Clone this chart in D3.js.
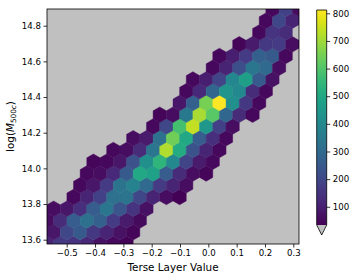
<!DOCTYPE html>
<html>
<head>
<meta charset="utf-8">
<script src="https://cdn.jsdelivr.net/npm/d3@7"></script>
<style>
  body { margin: 0; background: #fff; }
  text { font-family: "DejaVu Sans", sans-serif; fill: #000; }
</style>
</head>
<body>
<svg id="chart" width="357" height="280"></svg>
<script>
// axis limits (data extent) and ticks
const xDomain = [-0.5696, 0.3201];
const yDomain = [13.5759, 14.8937];
const xTicks = [-0.5, -0.4, -0.3, -0.2, -0.1, 0.0, 0.1, 0.2, 0.3];
const yTicks = [13.6, 13.8, 14.0, 14.2, 14.4, 14.6, 14.8];
const cbarTicks = [100, 200, 300, 400, 500, 600, 700, 800];
const countRange = [34, 812];

// hexbin grid: 19 x 10, rows alternate between the two lattices
const gridX = 19, gridY = 10;
// first column of each row (row 0 = bottom) and the counts along it
const rowFirstCol = [0, 0, 0, 0, 2, 2, 3, 3, 5, 6, 8, 8, 10, 10, 11, 12, 13, 14, 16, 16, 17];
const rowCounts = [
  [110, 160, 150, 120, 70, 50, 40],
  [80, 200, 250, 160, 110, 70, 45],
  [60, 130, 260, 320, 270, 170, 90, 55],
  [60, 80, 140, 260, 340, 240, 150, 70],
  [50, 110, 180, 320, 330, 200, 110, 60, 40],
  [50, 80, 170, 330, 380, 300, 170, 110, 60],
  [50, 60, 120, 250, 500, 480, 260, 130, 60, 45],
  [45, 50, 80, 230, 420, 540, 400, 190, 90, 50],
  [50, 60, 130, 340, 720, 510, 230, 110, 50],
  [60, 90, 320, 640, 500, 260, 140, 50],
  [50, 200, 580, 740, 450, 180, 60],
  [45, 60, 350, 710, 610, 290, 130, 50],
  [80, 270, 650, 812, 420, 160, 50],
  [50, 120, 290, 440, 400, 130, 50],
  [50, 100, 190, 390, 470, 250, 70],
  [50, 110, 220, 340, 300, 60],
  [50, 100, 170, 270, 250, 50],
  [45, 90, 160, 170, 60],
  [50, 150, 130],
  [50, 200, 110],
  [50, 180, 60]
];

const plot = {left: 47, right: 299, top: 9, bottom: 244};
const cbar = {left: 316.7, right: 326.7, top: 10, bottom: 225, tip: 235};
const bgColor = "#c0c0c0";

const svg = d3.select("#chart");

const x = d3.scaleLinear().domain(xDomain).range([plot.left, plot.right]);
const y = d3.scaleLinear().domain(yDomain).range([plot.bottom, plot.top]);
const color = d3.scaleSequential(d3.interpolateViridis).domain(countRange);

// build cells from the rows
const sx = (xDomain[1] - xDomain[0]) / gridX;
const sy = (yDomain[1] - yDomain[0]) / gridY;
const cells = [];
rowCounts.forEach((vals, r) => {
  vals.forEach((v, k) => {
    const col = rowFirstCol[r] + k;
    cells.push({
      x: xDomain[0] + (col + (r % 2 ? 0.5 : 0)) * sx,
      y: yDomain[0] + r * sy / 2,
      count: v
    });
  });
});

// hexagon shape (pointy top, like matplotlib)
const hw = (x(xDomain[0] + sx) - x(xDomain[0])) / 2;
const hh = y(yDomain[0]) - y(yDomain[0] + sy / 3);
const hexPath = `M${hw},${-hh / 2}L${hw},${hh / 2}L0,${hh}L${-hw},${hh / 2}L${-hw},${-hh / 2}L0,${-hh}Z`;

svg.append("clipPath").attr("id", "clip")
  .append("rect")
  .attr("x", plot.left).attr("y", plot.top)
  .attr("width", plot.right - plot.left).attr("height", plot.bottom - plot.top);

svg.append("rect")
  .attr("x", plot.left).attr("y", plot.top)
  .attr("width", plot.right - plot.left).attr("height", plot.bottom - plot.top)
  .attr("fill", bgColor);

svg.append("g").attr("clip-path", "url(#clip)")
  .selectAll("path")
  .data(cells)
  .join("path")
  .attr("d", hexPath)
  .attr("transform", d => `translate(${x(d.x)},${y(d.y)})`)
  .attr("fill", d => color(d.count))
  .attr("stroke", d => color(d.count))
  .attr("stroke-width", 0.4);

// axes
const fmt = d3.format(".1f");
const xAxis = svg.append("g")
  .attr("transform", `translate(0,${plot.bottom})`)
  .call(d3.axisBottom(x).tickValues(xTicks).tickSize(3.5).tickPadding(2.5).tickFormat(fmt));
const yAxis = svg.append("g")
  .attr("transform", `translate(${plot.left},0)`)
  .call(d3.axisLeft(y).tickValues(yTicks).tickSize(3.5).tickPadding(2.5).tickFormat(fmt));

[xAxis, yAxis].forEach(g => {
  g.select(".domain").remove();
  g.selectAll(".tick line").attr("stroke", "#000").attr("stroke-width", 0.8);
  g.selectAll(".tick text").attr("font-size", 8.6).attr("font-family", "DejaVu Sans");
});

svg.append("rect")
  .attr("x", plot.left).attr("y", plot.top)
  .attr("width", plot.right - plot.left).attr("height", plot.bottom - plot.top)
  .attr("fill", "none").attr("stroke", "#000").attr("stroke-width", 0.8);

svg.append("text")
  .attr("x", (plot.left + plot.right) / 2)
  .attr("y", 271)
  .attr("text-anchor", "middle")
  .attr("font-size", 10.4)
  .text("Terse Layer Value");

const ylab = svg.append("text")
  .attr("transform", `translate(14,${(plot.top + plot.bottom) / 2}) rotate(-90)`)
  .attr("text-anchor", "middle")
  .attr("font-size", 10.4);
ylab.append("tspan").text("log(");
ylab.append("tspan").attr("font-style", "italic").text("M");
ylab.append("tspan").attr("font-size", 7.3).attr("dy", 1.8).text("500");
ylab.append("tspan").attr("font-size", 7.3).attr("font-style", "italic").text("c");
ylab.append("tspan").attr("dy", -1.8).text(")");

// colorbar
const cy = d3.scaleLinear().domain(countRange).range([cbar.bottom, cbar.top]);
const grad = svg.append("defs").append("linearGradient")
  .attr("id", "viridis").attr("x1", 0).attr("y1", 1).attr("x2", 0).attr("y2", 0);
d3.range(0, 1.0001, 0.025).forEach(t => {
  grad.append("stop").attr("offset", t).attr("stop-color", d3.interpolateViridis(t));
});
svg.append("rect")
  .attr("x", cbar.left).attr("y", cbar.top)
  .attr("width", cbar.right - cbar.left).attr("height", cbar.bottom - cbar.top)
  .attr("fill", "url(#viridis)");
svg.append("path")
  .attr("d", `M${cbar.left},${cbar.bottom}L${cbar.right},${cbar.bottom}L${(cbar.left + cbar.right) / 2},${cbar.tip}Z`)
  .attr("fill", bgColor);
svg.append("path")
  .attr("d", `M${cbar.left},${cbar.top}L${cbar.right},${cbar.top}L${cbar.right},${cbar.bottom}L${(cbar.left + cbar.right) / 2},${cbar.tip}L${cbar.left},${cbar.bottom}Z`)
  .attr("fill", "none").attr("stroke", "#000").attr("stroke-width", 0.8);

const cAxis = svg.append("g")
  .attr("transform", `translate(${cbar.right},0)`)
  .call(d3.axisRight(cy).tickValues(cbarTicks).tickSize(3.5).tickPadding(2.5));
cAxis.select(".domain").remove();
cAxis.selectAll(".tick line").attr("stroke", "#000").attr("stroke-width", 0.8);
cAxis.selectAll(".tick text").attr("font-size", 8.6).attr("font-family", "DejaVu Sans");
</script>
</body>
</html>
